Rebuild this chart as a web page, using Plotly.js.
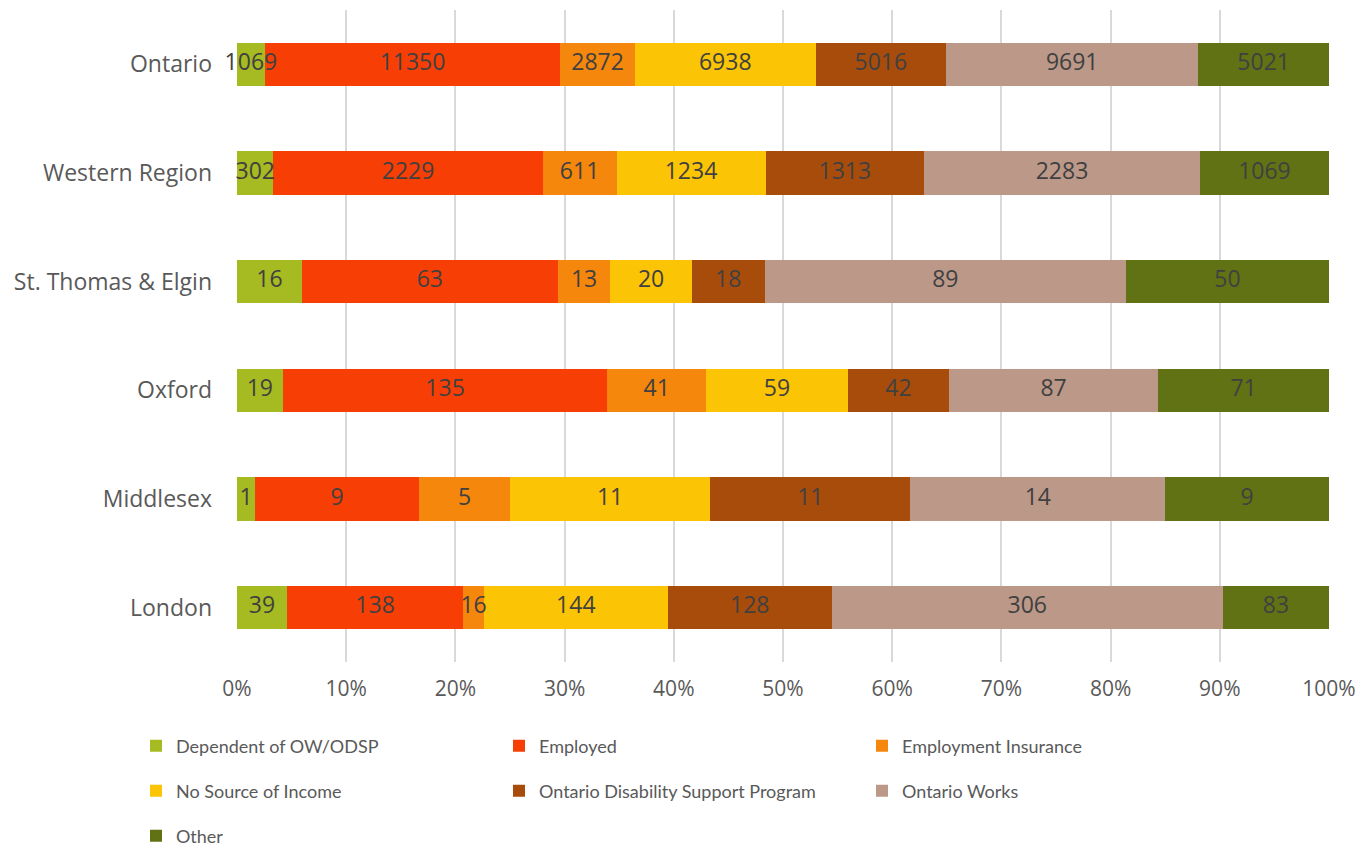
<!DOCTYPE html>
<html>
<head>
<meta charset="utf-8">
<script src="https://cdn.plot.ly/plotly-3.0.1.min.js"></script>
<style>
  html, body { margin: 0; padding: 0; background: #fff; }
  #plotArea { width: 1360px; height: 846px; }
</style>
</head>
<body>
<div id="plotArea"></div>
<script>
// regions, bottom to top as drawn
var regions = ["London", "Middlesex", "Oxford", "St. Thomas & Elgin", "Western Region", "Ontario"];

var dependent = [39, 1, 19, 16, 302, 1069];
var employed = [138, 9, 135, 63, 2229, 11350];
var empInsurance = [16, 5, 41, 13, 611, 2872];
var noIncome = [144, 11, 59, 20, 1234, 6938];
var odsp = [128, 11, 42, 18, 1313, 5016];
var ontWorks = [306, 14, 87, 89, 2283, 9691];
var other = [83, 9, 71, 50, 1069, 5021];

var pctTicks = [0, 10, 20, 30, 40, 50, 60, 70, 80, 90, 100];

var series = [
    {name: "Dependent of OW/ODSP", vals: dependent, color: "#a6ba22", legend: "legend"},
    {name: "Employed", vals: employed, color: "#f73f05", legend: "legend"},
    {name: "Employment Insurance", vals: empInsurance, color: "#f5870c", legend: "legend"},
    {name: "No Source of Income", vals: noIncome, color: "#fbc404", legend: "legend2"},
    {name: "Ontario Disability Support Program", vals: odsp, color: "#a84c0c", legend: "legend2"},
    {name: "Ontario Works", vals: ontWorks, color: "#bb9888", legend: "legend2"},
    {name: "Other", vals: other, color: "#617214", legend: "legend3"}
];

var textFont = "Open Sans, sans-serif";
var legendFont = "Lato, sans-serif";

// row totals, for the percent scale
var totals = regions.map(function (r, i) {
    return series.reduce(function (sum, s) { return sum + s.vals[i]; }, 0);
});

var barTraces = series.map(function (s) {
    return {
        type: "bar",
        orientation: "h",
        name: s.name,
        y: regions,
        x: s.vals,
        marker: {color: s.color, line: {width: 0}},
        legend: s.legend,
        hoverinfo: "name+x"
    };
});

// labels go on top of every bar, so build them as text traces at segment centres
var running = regions.map(function () { return 0; });
var labelTraces = series.map(function (s) {
    var mids = s.vals.map(function (v, i) {
        var start = running[i];
        running[i] += v;
        return (start + v / 2) / totals[i] * 100;
    });
    return {
        type: "scatter",
        mode: "text",
        x: mids,
        y: regions,
        text: s.vals.map(String),
        textposition: "middle center",
        textfont: {family: textFont, size: 23, color: "#404040"},
        showlegend: false,
        hoverinfo: "skip",
        cliponaxis: false
    };
});

// plot area runs 10..662 px down the page, 237..1329 across
function legendRow(yPx) {
    return {
        orientation: "h",
        traceorder: "normal",
        x: (136 - 237) / 1092,
        y: (662 - yPx) / 652,
        xanchor: "left", yanchor: "middle",
        entrywidth: 318, entrywidthmode: "pixels",
        itemwidth: 30,
        font: {family: legendFont, size: 18, color: "#595959"},
        bgcolor: "rgba(0,0,0,0)"
    };
}

var layout = {
    width: 1360,
    height: 846,
    margin: {l: 237, r: 31, t: 10, b: 184, autoexpand: false},
    paper_bgcolor: "#ffffff",
    plot_bgcolor: "#ffffff",
    barmode: "stack",
    barnorm: "percent",
    bargap: 0.6,
    font: {family: textFont, color: "#595959"},
    xaxis: {
        range: [0, 100],
        tickvals: pctTicks,
        ticktext: pctTicks.map(function (v) { return v + "%"; }),
        showgrid: true,
        gridcolor: "#d9d9d9",
        gridwidth: 2,
        zeroline: false,
        showline: false,
        ticks: "",
        ticklabelstandoff: 12,
        tickfont: {family: textFont, size: 21, color: "#595959"},
        fixedrange: true
    },
    yaxis: {
        type: "category",
        showgrid: false,
        zeroline: false,
        showline: false,
        ticks: "",
        ticklabelstandoff: 24,
        tickfont: {family: textFont, size: 23, color: "#595959"},
        fixedrange: true
    },
    showlegend: true,
    legend: legendRow(746),
    legend2: legendRow(791),
    legend3: legendRow(836)
};

Plotly.newPlot("plotArea", barTraces.concat(labelTraces), layout, {displayModeBar: false, staticPlot: true});
</script>
</body>
</html>
